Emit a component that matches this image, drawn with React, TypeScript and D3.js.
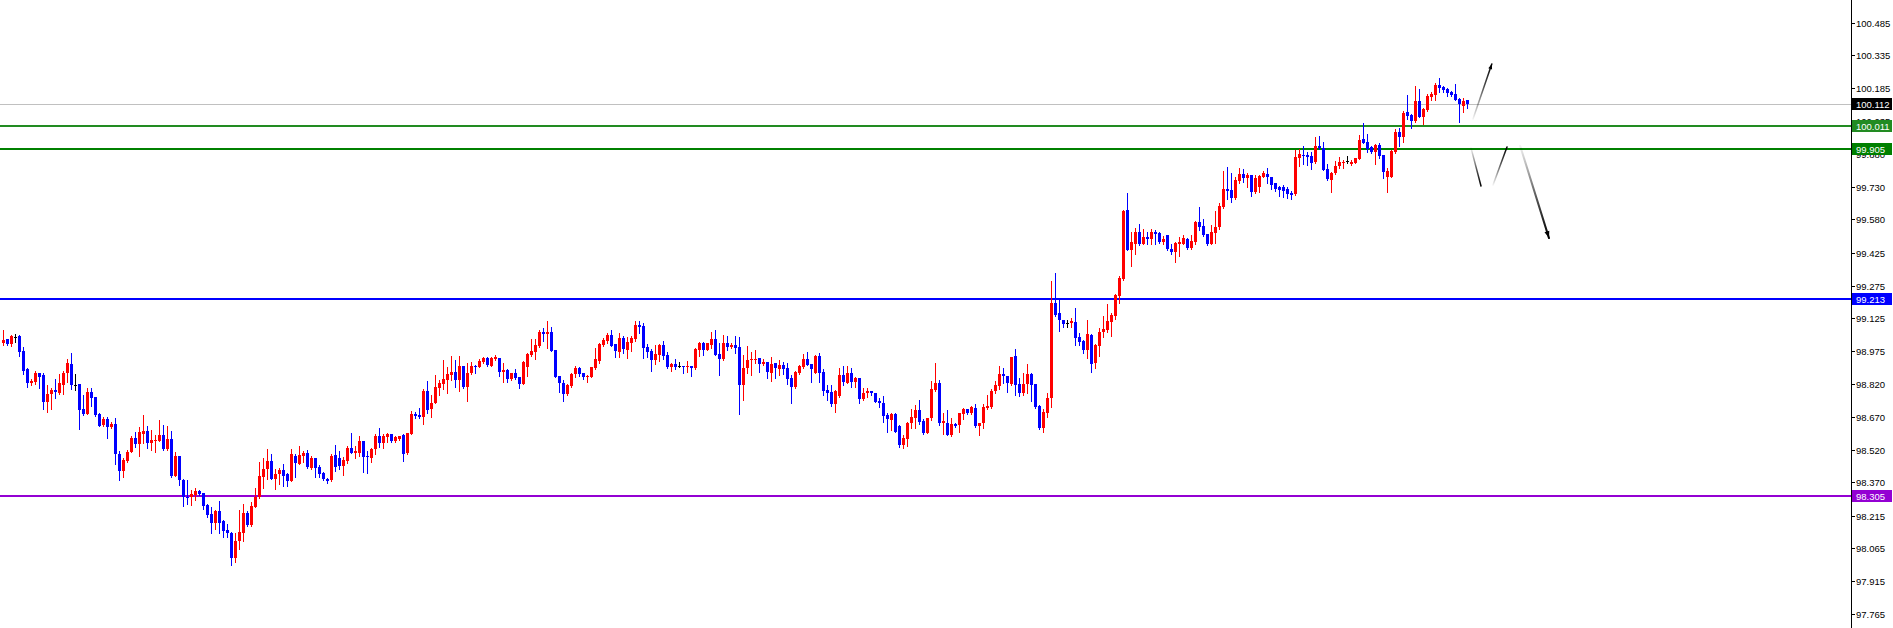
import React from "react";
import * as d3 from "d3";

const opens = [
99.013,99.028,99.006,99.037,99.045,98.974,98.891,98.828,98.831,98.873,
98.864,98.741,98.775,98.795,98.782,98.819,98.873,98.914,98.819,98.822,
98.707,98.684,98.785,98.762,98.686,98.633,98.663,98.623,98.638,98.500,
98.422,98.468,98.509,98.575,98.546,98.592,98.606,98.552,98.561,98.561,
98.587,98.523,98.569,98.400,98.491,98.380,98.303,98.300,98.311,98.330,
98.322,98.265,98.224,98.184,98.237,98.191,98.150,98.135,98.022,98.098,
98.138,98.227,98.173,98.257,98.302,98.396,98.429,98.468,98.385,98.408,
98.426,98.406,98.377,98.491,98.455,98.492,98.504,98.437,98.481,98.442,
98.411,98.383,98.380,98.495,98.480,98.445,98.469,98.526,98.506,98.506,
98.560,98.492,98.483,98.523,98.584,98.552,98.580,98.590,98.561,98.569,
98.587,98.503,98.592,98.684,98.679,98.672,98.790,98.706,98.736,98.805,
98.822,98.841,98.864,98.876,98.841,98.905,98.810,98.874,98.907,98.902,
98.925,98.940,98.905,98.937,98.940,98.879,98.887,98.844,98.871,98.853,
98.822,98.900,98.956,98.971,98.999,99.063,99.052,99.063,98.979,98.859,
98.825,98.776,98.813,98.868,98.894,98.871,98.856,98.856,98.897,98.930,
99.002,99.022,99.048,99.006,98.971,99.032,98.979,99.013,99.028,99.094,
99.089,98.991,98.976,98.933,98.956,99.002,98.956,98.902,98.914,98.905,
98.905,98.899,98.905,98.894,98.979,99.013,98.979,99.002,99.029,98.960,
98.937,99.013,98.994,99.002,98.994,98.818,98.894,98.933,98.933,98.940,
98.914,98.925,98.874,98.920,98.891,98.910,98.897,98.851,98.807,98.871,
98.902,98.937,98.914,98.874,98.951,98.879,98.795,98.784,98.730,98.767,
98.864,98.828,98.874,98.833,98.848,98.752,98.779,98.790,98.779,98.745,
98.733,98.679,98.656,98.684,98.629,98.541,98.569,98.641,98.668,98.702,
98.653,98.598,98.664,98.794,98.828,98.644,98.645,98.587,98.636,98.633,
98.682,98.705,98.687,98.714,98.628,98.644,98.713,98.717,98.790,98.813,
98.868,98.859,98.822,98.951,98.822,98.779,98.822,98.868,98.822,98.720,
98.618,98.690,98.760,99.193,99.147,99.119,99.101,99.101,99.106,99.038,
99.020,98.978,99.047,98.917,98.998,99.060,99.070,99.109,99.135,99.227,
99.304,99.623,99.439,99.469,99.520,99.469,99.497,99.489,99.523,99.519,
99.477,99.508,99.446,99.431,99.469,99.469,99.492,99.449,99.477,99.569,
99.549,99.512,99.469,99.518,99.546,99.636,99.719,99.716,99.677,99.759,
99.789,99.772,99.785,99.705,99.728,99.774,99.789,99.777,99.746,99.728,
99.728,99.719,99.703,99.697,99.861,99.877,99.877,99.874,99.843,99.918,
99.907,99.812,99.762,99.792,99.826,99.841,99.849,99.834,99.841,99.858,
99.949,99.938,99.915,99.888,99.923,99.877,99.777,99.777,99.892,99.984,
99.961,100.076,100.061,100.035,100.125,100.053,100.084,100.145,100.153,100.199,
100.191,100.179,100.165,100.157,100.133,100.102,100.128
];

const highs = [
99.071,99.028,99.048,99.052,99.048,98.994,98.894,98.847,98.884,98.873,
98.874,98.818,98.804,98.845,98.868,98.884,98.936,98.966,98.868,98.822,
98.772,98.804,98.804,98.762,98.687,98.670,98.670,98.647,98.667,98.515,
98.483,98.520,98.584,98.601,98.624,98.679,98.629,98.610,98.587,98.656,
98.633,98.629,98.606,98.509,98.491,98.385,98.380,98.334,98.343,98.334,
98.322,98.268,98.257,98.242,98.283,98.196,98.177,98.139,98.138,98.242,
98.270,98.237,98.279,98.345,98.461,98.480,98.523,98.500,98.431,98.434,
98.454,98.414,98.523,98.500,98.538,98.515,98.520,98.492,98.481,98.450,
98.419,98.390,98.500,98.541,98.514,98.485,98.538,98.595,98.538,98.583,
98.560,98.514,98.529,98.590,98.621,98.592,98.598,98.592,98.584,98.583,
98.592,98.598,98.699,98.695,98.710,98.798,98.836,98.772,98.864,98.841,
98.933,98.899,98.951,98.933,98.951,98.905,98.917,98.925,98.910,98.937,
98.945,98.945,98.945,98.956,98.940,98.917,98.890,98.874,98.890,98.853,
98.930,98.966,99.028,99.028,99.071,99.078,99.112,99.086,98.979,98.859,
98.841,98.822,98.874,98.905,98.902,98.871,98.864,98.899,98.986,99.009,
99.032,99.059,99.071,99.006,99.055,99.043,99.040,99.043,99.112,99.112,
99.105,99.006,98.982,99.002,99.005,99.022,98.971,98.920,98.936,98.922,
98.905,98.928,98.905,98.986,99.014,99.017,99.013,99.063,99.071,99.009,
99.048,99.043,99.009,99.043,99.037,98.956,98.997,98.971,98.979,98.940,
98.936,98.925,98.945,98.920,98.933,98.925,98.920,98.864,98.882,98.910,
98.960,98.971,98.914,98.956,98.963,98.890,98.818,98.818,98.795,98.894,
98.905,98.905,98.894,98.853,98.848,98.802,98.802,98.790,98.779,98.756,
98.767,98.687,98.687,98.687,98.633,98.587,98.648,98.705,98.725,98.748,
98.659,98.668,98.836,98.920,98.840,98.687,98.702,98.667,98.644,98.690,
98.710,98.705,98.720,98.730,98.644,98.728,98.771,98.797,98.837,98.905,
98.898,98.859,98.948,98.983,98.848,98.874,98.914,98.874,98.822,98.725,
98.705,98.779,99.296,99.331,99.208,99.119,99.116,99.127,99.170,99.058,
99.027,99.116,99.052,99.006,99.081,99.135,99.189,99.147,99.236,99.320,
99.623,99.700,99.523,99.542,99.558,99.538,99.523,99.534,99.531,99.523,
99.503,99.508,99.466,99.477,99.500,99.508,99.496,99.508,99.574,99.638,
99.584,99.515,99.554,99.618,99.654,99.805,99.823,99.795,99.777,99.815,
99.811,99.792,99.785,99.785,99.783,99.803,99.815,99.777,99.749,99.734,
99.739,99.728,99.711,99.900,99.903,99.918,99.892,99.892,99.958,99.964,
99.938,99.835,99.800,99.849,99.866,99.854,99.872,99.854,99.864,99.969,
100.023,99.972,99.918,99.926,99.930,99.877,99.815,99.900,99.995,100.000,
100.079,100.153,100.065,100.194,100.179,100.091,100.157,100.168,100.206,100.230,
100.194,100.183,100.171,100.203,100.137,100.137,100.130
];

const lows = [
99.002,99.002,98.999,99.017,98.951,98.868,98.810,98.818,98.821,98.805,
98.707,98.695,98.706,98.759,98.776,98.778,98.831,98.798,98.795,98.615,
98.679,98.683,98.721,98.675,98.629,98.630,98.575,98.620,98.454,98.380,
98.396,98.461,98.509,98.532,98.491,98.549,98.529,98.518,98.509,98.560,
98.518,98.518,98.396,98.399,98.357,98.262,98.270,98.267,98.290,98.311,
98.247,98.211,98.138,98.153,98.138,98.119,98.119,97.989,98.004,98.062,
98.099,98.170,98.170,98.254,98.299,98.345,98.385,98.385,98.340,98.362,
98.354,98.354,98.377,98.396,98.454,98.463,98.437,98.431,98.396,98.396,
98.380,98.366,98.375,98.423,98.429,98.403,98.460,98.503,98.483,98.491,
98.419,98.414,98.465,98.498,98.534,98.526,98.557,98.557,98.557,98.564,
98.468,98.498,98.592,98.667,98.667,98.638,98.690,98.672,98.733,98.772,
98.798,98.782,98.841,98.810,98.791,98.802,98.745,98.868,98.874,98.899,
98.920,98.905,98.905,98.933,98.859,98.833,98.833,98.841,98.844,98.805,
98.822,98.859,98.951,98.937,98.994,99.020,98.986,98.976,98.853,98.784,
98.745,98.772,98.810,98.856,98.859,98.845,98.833,98.856,98.890,98.920,
98.997,99.012,98.997,98.948,98.945,98.963,98.944,98.976,99.022,99.055,
98.944,98.948,98.882,98.914,98.930,98.936,98.897,98.882,98.891,98.902,
98.871,98.879,98.861,98.891,98.953,98.956,98.979,98.990,98.956,98.864,
98.933,98.979,98.986,98.967,98.684,98.749,98.874,98.864,98.917,98.879,
98.910,98.851,98.838,98.851,98.864,98.868,98.822,98.736,98.802,98.868,
98.894,98.910,98.833,98.871,98.833,98.772,98.749,98.721,98.695,98.764,
98.818,98.828,98.810,98.810,98.733,98.749,98.761,98.772,98.738,98.718,
98.646,98.603,98.610,98.600,98.534,98.529,98.538,98.618,98.618,98.636,
98.592,98.598,98.656,98.791,98.633,98.592,98.587,98.582,98.625,98.602,
98.659,98.682,98.684,98.625,98.587,98.618,98.705,98.713,98.779,98.797,
98.825,98.786,98.817,98.771,98.767,98.771,98.779,98.745,98.710,98.613,
98.602,98.671,98.717,99.135,99.067,99.086,99.086,99.083,99.001,99.001,
98.966,98.943,98.879,98.897,98.951,99.040,99.063,99.044,99.121,99.193,
99.301,99.439,99.367,99.420,99.462,99.466,99.466,99.469,99.465,99.472,
99.469,99.439,99.420,99.385,99.411,99.466,99.443,99.446,99.469,99.531,
99.503,99.462,99.466,99.473,99.538,99.631,99.674,99.662,99.673,99.749,
99.751,99.728,99.688,99.700,99.706,99.774,99.749,99.719,99.713,99.688,
99.685,99.677,99.673,99.693,99.826,99.834,99.831,99.811,99.841,99.904,
99.808,99.762,99.708,99.789,99.815,99.818,99.838,99.831,99.838,99.857,
99.934,99.888,99.884,99.835,99.861,99.772,99.708,99.774,99.887,99.918,
99.938,100.042,100.000,100.030,100.050,100.019,100.081,100.130,100.130,100.168,
100.168,100.148,100.148,100.130,100.030,100.076,100.094
];

const closes = [
99.025,99.006,99.043,99.037,98.971,98.882,98.828,98.838,98.873,98.856,
98.741,98.776,98.795,98.787,98.827,98.873,98.919,98.819,98.819,98.703,
98.684,98.785,98.759,98.679,98.629,98.661,98.626,98.638,98.500,98.422,
98.472,98.511,98.575,98.546,98.601,98.606,98.552,98.564,98.564,98.587,
98.523,98.569,98.400,98.491,98.382,98.300,98.299,98.316,98.330,98.316,
98.260,98.219,98.181,98.237,98.184,98.145,98.135,98.022,98.099,98.139,
98.230,98.173,98.260,98.303,98.399,98.431,98.468,98.385,98.408,98.426,
98.400,98.377,98.500,98.458,98.495,98.504,98.438,98.481,98.437,98.406,
98.383,98.375,98.491,98.439,98.445,98.472,98.526,98.506,98.514,98.560,
98.488,98.485,98.523,98.584,98.552,98.584,98.592,98.561,98.580,98.583,
98.500,98.595,98.684,98.675,98.672,98.790,98.702,98.733,98.807,98.828,
98.845,98.867,98.876,98.841,98.905,98.810,98.874,98.905,98.899,98.928,
98.940,98.910,98.940,98.948,98.879,98.887,98.844,98.871,98.848,98.822,
98.925,98.960,98.976,99.002,99.063,99.052,99.063,98.976,98.856,98.825,
98.776,98.818,98.868,98.894,98.868,98.856,98.860,98.899,98.936,99.006,
99.025,99.048,98.999,98.976,99.032,98.982,99.017,99.036,99.094,99.086,
98.989,98.968,98.933,98.960,99.002,98.951,98.902,98.914,98.902,98.905,
98.899,98.905,98.897,98.983,99.013,98.979,99.013,99.029,98.956,98.937,
99.013,98.994,99.002,98.990,98.818,98.894,98.933,98.937,98.937,98.914,
98.925,98.879,98.914,98.894,98.910,98.891,98.844,98.807,98.879,98.905,
98.937,98.910,98.891,98.951,98.874,98.792,98.779,98.730,98.790,98.864,
98.833,98.874,98.833,98.848,98.752,98.779,98.792,98.779,98.741,98.733,
98.676,98.659,98.684,98.603,98.541,98.575,98.644,98.671,98.702,98.648,
98.598,98.667,98.797,98.828,98.644,98.653,98.587,98.636,98.628,98.687,
98.705,98.687,98.717,98.628,98.644,98.717,98.722,98.790,98.817,98.868,
98.859,98.828,98.948,98.817,98.779,98.822,98.868,98.817,98.717,98.618,
98.694,98.760,99.193,99.139,99.116,99.098,99.101,99.110,99.035,99.017,
98.978,99.052,98.914,99.001,99.060,99.075,99.112,99.139,99.232,99.308,
99.618,99.439,99.477,99.520,99.469,99.497,99.489,99.520,99.512,99.477,
99.488,99.443,99.431,99.472,99.477,99.496,99.449,99.480,99.569,99.546,
99.508,99.469,99.520,99.546,99.641,99.719,99.713,99.677,99.762,99.789,
99.769,99.785,99.708,99.769,99.780,99.795,99.777,99.739,99.719,99.716,
99.713,99.697,99.693,99.866,99.881,99.874,99.866,99.838,99.918,99.907,
99.808,99.765,99.795,99.826,99.846,99.846,99.849,99.846,99.861,99.946,
99.934,99.903,99.888,99.923,99.872,99.800,99.803,99.895,99.984,99.961,
100.071,100.056,100.035,100.125,100.053,100.088,100.148,100.157,100.199,100.187,
100.176,100.163,100.153,100.130,100.110,100.125,100.112
];

const tickLabels = [
  "100.485","100.335","100.185","100.035","99.880","99.730","99.580","99.425",
  "99.275","99.125","98.975","98.820","98.670","98.520","98.370","98.215",
  "98.065","97.915","97.765"
];

const levelPrices = [100.112, 100.011, 99.905, 99.213, 98.305];
const levelLabels = ["100.112", "100.011", "99.905", "99.213", "98.305"];
const levelLineColors = ["#C0C0C0", "#228B22", "#008000", "#0000FF", "#9400D3"];
const levelBoxColors = ["#000000", "#228B22", "#008000", "#0000FF", "#9400D3"];
const levelWidths = [1, 2, 2, 2, 2];

// hand-drawn projection strokes, as [candle index, price]
const strokes: [number, number][][] = [
  [[367.5, 100.042], [372.2, 100.295]],
  [[367.0, 99.909], [369.5, 99.734]],
  [[372.5, 99.738], [376.0, 99.913]],
  [[379.3, 99.918], [386.5, 99.494]],
];
const strokeHasHead = [true, false, false, true];

const W = 1893;
const H = 628;
const AXIS_X = 1851;

export default function App() {
  const n = closes.length;
  const x = d3.scaleLinear().domain([0, n - 1]).range([3, 3 + 4 * (n - 1)]);
  const y = d3.scaleLinear().domain([97.699, 100.59]).range([H, 0]);

  const candles = d3.range(n).map((i) => {
    const o = opens[i], c = closes[i], h = highs[i], l = lows[i];
    const color = c > o ? "#FF0000" : c < o ? "#0000FF" : "#000000";
    const cx = Math.round(x(i));
    const yTop = Math.round(y(Math.max(o, c)));
    const yBot = Math.round(y(Math.min(o, c)));
    const yH = Math.round(y(h));
    const yL = Math.round(y(l));
    return (
      <g key={i} fill={color}>
        <rect x={cx} y={yH} width={1} height={Math.max(1, yL - yH + 1)} />
        <rect x={cx - 1} y={yTop} width={3} height={Math.max(1, yBot - yTop)} />
      </g>
    );
  });

  return (
    <svg
      width={W}
      height={H}
      style={{ position: "absolute", left: 0, top: 0, background: "#ffffff" }}
      shapeRendering="crispEdges"
    >
      <defs>
        {strokes.map((s, k) => {
          const [a, b] = s;
          return (
            <linearGradient
              key={k}
              id={`sg${k}`}
              gradientUnits="userSpaceOnUse"
              x1={x(a[0])}
              y1={y(a[1])}
              x2={x(b[0])}
              y2={y(b[1])}
            >
              <stop offset="0" stopColor="#000" stopOpacity={0.05} />
              <stop offset="0.6" stopColor="#000" stopOpacity={0.7} />
              <stop offset="1" stopColor="#000" stopOpacity={1} />
            </linearGradient>
          );
        })}
      </defs>
      <rect x={0} y={0} width={W} height={H} fill="#ffffff" />

      {/* level lines */}
      {levelPrices.map((p, k) => (
        <rect
          key={k}
          x={0}
          y={Math.round(y(p)) - (levelWidths[k] === 2 ? 1 : 0)}
          width={AXIS_X}
          height={levelWidths[k]}
          fill={levelLineColors[k]}
        />
      ))}

      {candles}

      {/* projection strokes */}
      <g shapeRendering="geometricPrecision">
        {strokes.map((s, k) => {
          const [a, b] = s;
          const x1 = x(a[0]), y1 = y(a[1]), x2 = x(b[0]), y2 = y(b[1]);
          const ang = Math.atan2(y2 - y1, x2 - x1);
          const hl = k === 3 ? 7 : 5;
          const hw = k === 3 ? 2.5 : 2;
          const p1 = [x2 - hl * Math.cos(ang) + hw * Math.sin(ang), y2 - hl * Math.sin(ang) - hw * Math.cos(ang)];
          const p2 = [x2 - hl * Math.cos(ang) - hw * Math.sin(ang), y2 - hl * Math.sin(ang) + hw * Math.cos(ang)];
          return (
            <g key={k}>
              <line
                x1={x1}
                y1={y1}
                x2={x2}
                y2={y2}
                stroke={`url(#sg${k})`}
                strokeWidth={k === 3 ? 2 : 1.5}
                strokeLinecap="round"
              />
              {strokeHasHead[k] && (
                <polygon points={`${x2},${y2} ${p1[0]},${p1[1]} ${p2[0]},${p2[1]}`} fill="#000" />
              )}
            </g>
          );
        })}
      </g>

      {/* price axis */}
      <rect x={AXIS_X} y={0} width={1} height={H} fill="#000" />
      <g fontFamily="'Liberation Sans', Arial, sans-serif" fontSize={9.5}>
        {tickLabels.map((t, k) => {
          const yy = Math.round(y(+t));
          return (
            <g key={k}>
              <rect x={AXIS_X + 1} y={yy} width={3} height={1} fill="#000" />
              <text x={AXIS_X + 5} y={yy + 3.5} fill="#000" shapeRendering="geometricPrecision">
                {t}
              </text>
            </g>
          );
        })}
        {levelPrices.map((p, k) => {
          const yy = Math.round(y(p));
          return (
            <g key={k}>
              <rect x={AXIS_X + 1} y={yy - 6} width={W - AXIS_X - 2} height={12} fill={levelBoxColors[k]} />
              <text x={AXIS_X + 5} y={yy + 3.5} fill="#ffffff" shapeRendering="geometricPrecision">
                {levelLabels[k]}
              </text>
            </g>
          );
        })}
      </g>
    </svg>
  );
}
